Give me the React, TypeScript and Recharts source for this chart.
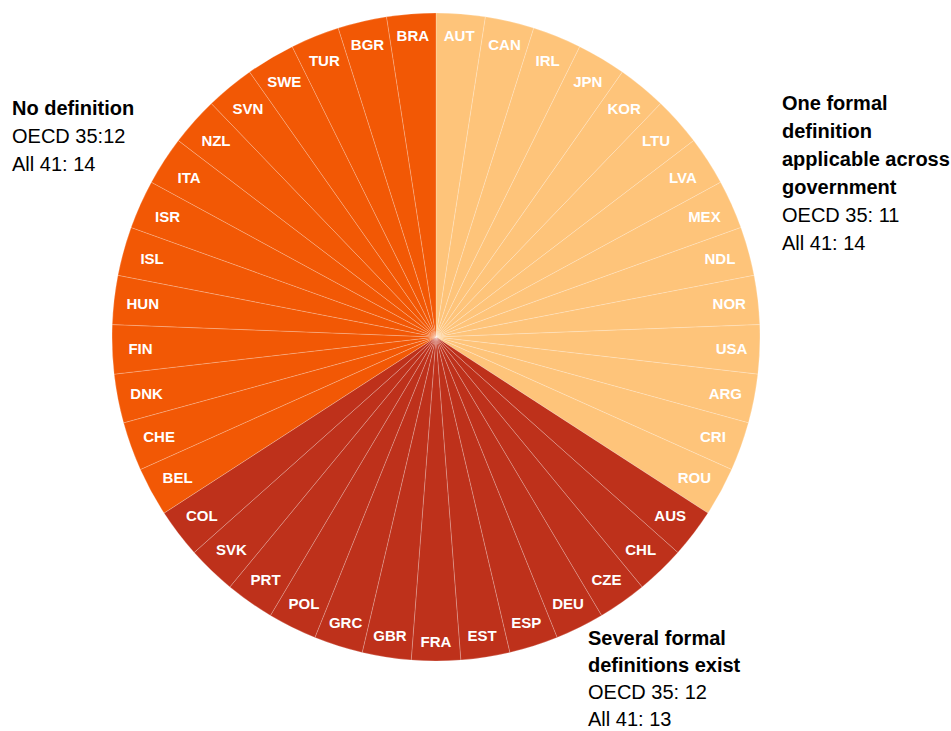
import { PieChart, Pie, Cell } from 'recharts';

const oneFormal = ['AUT', 'CAN', 'IRL', 'JPN', 'KOR', 'LTU', 'LVA', 'MEX', 'NDL', 'NOR', 'USA', 'ARG', 'CRI', 'ROU'];
const severalFormal = ['AUS', 'CHL', 'CZE', 'DEU', 'ESP', 'EST', 'FRA', 'GBR', 'GRC', 'POL', 'PRT', 'SVK', 'COL'];
const noDefinition = ['BEL', 'CHE', 'DNK', 'FIN', 'HUN', 'ISL', 'ISR', 'ITA', 'NZL', 'SVN', 'SWE', 'TUR', 'BGR', 'BRA'];

const groupColors = ['#FEC47A', '#BE311B', '#F25805'];

const data = [
  ...oneFormal.map((c) => ({ name: c, value: 1, group: 0 })),
  ...severalFormal.map((c) => ({ name: c, value: 1, group: 1 })),
  ...noDefinition.map((c) => ({ name: c, value: 1, group: 2 })),
];

const FONT = '"Liberation Sans Narrow", "Arial Narrow", "Liberation Sans", Arial, sans-serif';
const RADIAN = Math.PI / 180;

const renderLabel = (props: any) => {
  const { cx, cy, midAngle, name } = props;
  const c = Math.cos(-midAngle * RADIAN);
  const s = Math.sin(-midAngle * RADIAN);
  const r = 312 - 16 * Math.abs(c) - 8 * Math.abs(s);
  return (
    <text
      x={cx + r * c}
      y={cy + r * s}
      fill="#fff"
      textAnchor="middle"
      dominantBaseline="central"
      fontFamily={FONT}
      fontWeight="bold"
      fontSize={15}
    >
      {name}
    </text>
  );
};

const note = (left: number, top: number, lh: number, bold: string[], lines: string[]) => (
  <div
    style={{
      position: 'absolute',
      left,
      top,
      fontFamily: FONT,
      fontSize: 20,
      lineHeight: `${lh}px`,
      color: '#000',
      whiteSpace: 'nowrap',
    }}
  >
    {bold.map((b) => (
      <div key={b} style={{ fontWeight: 'bold' }}>{b}</div>
    ))}
    {lines.map((l) => (
      <div key={l}>{l}</div>
    ))}
  </div>
);

export default function App() {
  return (
    <div style={{ position: 'absolute', left: 0, top: 0, width: 951, height: 731, background: '#fff' }}>
      <PieChart width={951} height={731} margin={{ top: 0, right: 0, bottom: 0, left: 0 }}>
        <Pie
          data={data}
          dataKey="value"
          nameKey="name"
          cx={436}
          cy={337}
          innerRadius={0}
          outerRadius={324}
          startAngle={90}
          endAngle={-270}
          stroke="rgba(255,255,255,0.3)"
          strokeWidth={0.7}
          label={renderLabel}
          labelLine={false}
          isAnimationActive={false}
        >
          {data.map((d) => (
            <Cell key={d.name} fill={groupColors[d.group]} />
          ))}
        </Pie>
      </PieChart>
      {note(12, 94, 28, ['No definition'], ['OECD 35:12', 'All 41: 14'])}
      {note(782, 89, 28, ['One formal', 'definition', 'applicable across', 'government'], ['OECD 35: 11', 'All 41: 14'])}
      {note(588, 625, 27, ['Several formal', 'definitions exist'], ['OECD 35: 12', 'All 41: 13'])}
    </div>
  );
}
